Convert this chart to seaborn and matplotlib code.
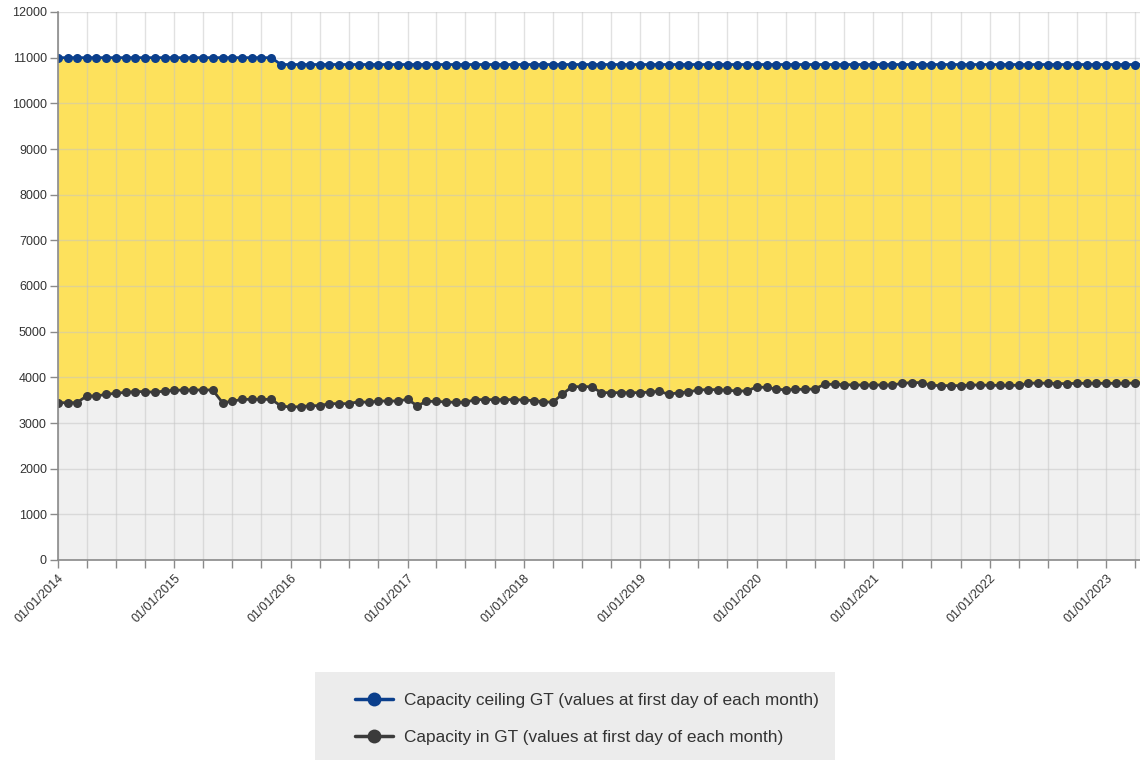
import numpy as np
import pandas as pd
import matplotlib
matplotlib.use("Agg")
import matplotlib.pyplot as plt
import matplotlib.dates as mdates
from matplotlib.patches import Rectangle
from matplotlib.lines import Line2D
import seaborn as sns

# ---- data (monthly, first day of each month, Jan 2014 .. May 2023) ----
ceiling_gt = [11000] * 23 + [10850] * 90
capacity_gt = [
    3444, 3444, 3444, 3591, 3591, 3628, 3650, 3672, 3687, 3687, 3672, 3701,
    3716, 3723, 3723, 3723, 3723, 3444, 3474, 3518, 3518, 3518, 3518, 3372,
    3350, 3357, 3379, 3379, 3423, 3423, 3423, 3467, 3452, 3481, 3481, 3481,
    3518, 3375,
    3474, 3474, 3460, 3452, 3452, 3511, 3511, 3511, 3511, 3511, 3504, 3489,
    3467, 3452, 3628, 3795, 3795, 3795, 3664, 3664, 3664, 3664, 3664, 3679,
    3694, 3628, 3664, 3679, 3723, 3730, 3730, 3716, 3701, 3701, 3788, 3778,
    3745,
    3723, 3737, 3737, 3745, 3847, 3847, 3840, 3832, 3832, 3832, 3832, 3832,
    3869, 3884, 3884, 3825, 3818, 3818, 3818, 3832, 3832, 3825, 3825, 3825,
    3825, 3869, 3876, 3869, 3862, 3862, 3869, 3869, 3869, 3869, 3869, 3869,
    3876, 3880,
]
dates = pd.date_range("2014-01-01", periods=len(capacity_gt), freq="MS")
series_labels = [
    "Capacity ceiling GT (values at first day of each month)",
    "Capacity in GT (values at first day of each month)",
]
y_ticks = list(range(0, 12001, 1000))

df = pd.DataFrame({"date": dates, "ceiling": ceiling_gt, "capacity": capacity_gt})

sns.set_theme(style="white")
plt.rcParams["font.family"] = ["Liberation Sans", "DejaVu Sans"]

BLUE = "#0b3f8c"
DARK = "#3b3b3b"
YELLOW = "#fde15c"
GREY_FILL = "#f0f0f0"
GRID = "#c4c4c4"

fig = plt.figure(figsize=(11.4, 7.6), dpi=100)
ax = fig.add_axes([58 / 1140, 1 - 560 / 760, 1 - 58 / 1140 + 0.002, (560 - 12) / 760])

ax.fill_between(df["date"], 0, df["capacity"], color=GREY_FILL, lw=0, zorder=0.5)
ax.fill_between(df["date"], df["capacity"], df["ceiling"], color=YELLOW, lw=0, zorder=0.5)

sns.lineplot(data=df, x="date", y="ceiling", ax=ax, color=BLUE, lw=2,
             marker="o", markersize=6.5, markeredgewidth=0, zorder=3)
sns.lineplot(data=df, x="date", y="capacity", ax=ax, color=DARK, lw=2,
             marker="o", markersize=6.5, markeredgewidth=0, zorder=3)

x_end = dates[0] + pd.Timedelta(days=int(111.7 * 30.44))
ax.set_xlim(dates[0], x_end)
ax.set_ylim(0, 12000)
ax.set_yticks(y_ticks)
ax.set_yticklabels([str(v) for v in y_ticks])

ax.xaxis.set_major_locator(mdates.YearLocator(month=1, day=1))
ax.xaxis.set_major_formatter(mdates.DateFormatter("%d/%m/%Y"))
ax.xaxis.set_minor_locator(mdates.MonthLocator(bymonth=[4, 7, 10]))

ax.set_axisbelow(False)
ax.grid(True, which="both", axis="x", color=GRID, lw=1, alpha=0.5)
ax.grid(True, which="major", axis="y", color=GRID, lw=1, alpha=0.5)

ax.set_xlabel("")
ax.set_ylabel("")
for s in ["top", "right"]:
    ax.spines[s].set_visible(False)
for s in ["left", "bottom"]:
    ax.spines[s].set_color("#8a8a8a")
    ax.spines[s].set_linewidth(1.2)
    ax.spines[s].set_zorder(4)

ax.tick_params(axis="y", which="major", length=6, width=1, color="#8a8a8a",
               labelsize=9, labelcolor="#333333", left=True, direction="out", pad=2)
ax.tick_params(axis="x", which="both", length=6, width=1, color="#8a8a8a",
               bottom=True, direction="out")
ax.tick_params(axis="x", which="major", labelsize=9, labelcolor="#333333", pad=3)
for lbl in ax.get_xticklabels():
    lbl.set_rotation(45)
    lbl.set_ha("right")
    lbl.set_rotation_mode("anchor")

# legend background panel
fig.patches.append(Rectangle((315 / 1140, 0), 520 / 1140, 88 / 760,
                             transform=fig.transFigure, facecolor="#ececec",
                             edgecolor="none", zorder=0))
handles = [
    Line2D([], [], color=BLUE, lw=2.5, marker="o", markersize=10, markeredgewidth=0),
    Line2D([], [], color=DARK, lw=2.5, marker="o", markersize=10, markeredgewidth=0),
]
fig.legend(handles, series_labels, loc="center", bbox_to_anchor=(587 / 1140, 1 - 719 / 760),
           frameon=False, fontsize=12.4, labelcolor="#333333", handlelength=2.2,
           handletextpad=0.6, labelspacing=1.25)

fig.savefig("out.png", dpi=100)
